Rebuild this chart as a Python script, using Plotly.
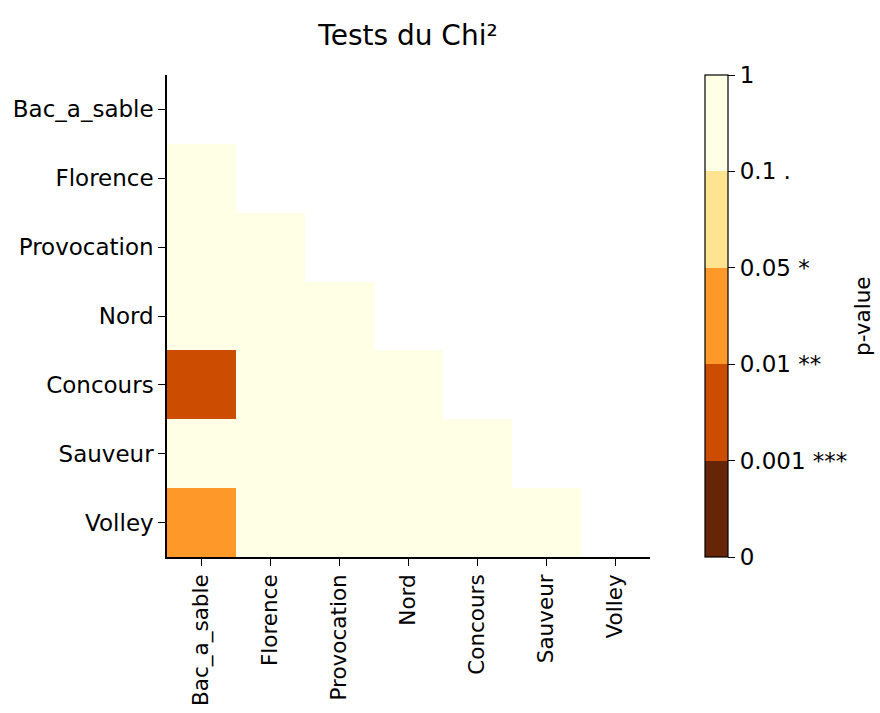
import numpy as np
import plotly.graph_objects as go

labels = ["Bac_a_sable", "Florence", "Provocation", "Nord", "Concours", "Sauveur", "Volley"]

# Lower-triangle chi-square p-values (row i vs column j, j < i); None = not shown
pvalues = [
    [None, None, None, None, None, None, None],
    [0.62, None, None, None, None, None, None],
    [0.45, 0.81, None, None, None, None, None],
    [0.33, 0.57, 0.74, None, None, None, None],
    [0.004, 0.29, 0.52, 0.68, None, None, None],
    [0.21, 0.66, 0.39, 0.85, 0.47, None, None],
    [0.03, 0.44, 0.71, 0.36, 0.58, 0.92, None],
]

boundaries = [0, 0.001, 0.01, 0.05, 0.1, 1]
bound_labels = ["0", "0.001 ***", "0.01 **", "0.05 *", "0.1 .", "1"]
bin_colors = ["#662506", "#cc4c02", "#fe9929", "#fee391", "#ffffe5"]

# BoundaryNorm-style mapping of p-values onto equally spaced colour bins
idx = list(range(len(boundaries)))
z = [[None if v is None else float(np.interp(v, boundaries, idx)) for v in row] for row in pvalues]

n = len(bin_colors)
colorscale = []
for k, c in enumerate(bin_colors):
    colorscale.append([k / n, c])
    colorscale.append([(k + 1) / n, c])

FONT = "DejaVu Sans"
FS = 23
fig = go.Figure(
    go.Heatmap(
        z=z,
        x=labels,
        y=labels,
        zmin=0,
        zmax=len(boundaries) - 1,
        colorscale=colorscale,
        customdata=pvalues,
        hovertemplate="%{y} / %{x}<br>p = %{customdata}<extra></extra>",
        colorbar=dict(
            x=(705 - 167) / 483,
            xanchor="left",
            y=0.5,
            yanchor="middle",
            len=1,
            lenmode="fraction",
            thickness=23,
            thicknessmode="pixels",
            outlinewidth=1.2,
            outlinecolor="black",
            tickmode="array",
            tickvals=idx,
            ticktext=bound_labels,
            ticks="outside",
            ticklen=7,
            tickwidth=1.2,
            tickcolor="black",
            tickfont=dict(family=FONT, size=FS, color="black"),
            xpad=0,
            ypad=0,
        ),
    )
)

fig.update_layout(
    width=880,
    height=713,
    margin=dict(l=167, r=230, t=75, b=156, autoexpand=False),
    paper_bgcolor="white",
    plot_bgcolor="white",
    font=dict(family=FONT, color="black"),
    title=dict(
        text="Tests du Chi²",
        x=408 / 880,
        xanchor="center",
        y=1 - 35 / 713,
        yanchor="middle",
        font=dict(family=FONT, size=28, color="black"),
    ),
    xaxis=dict(
        showgrid=False,
        zeroline=False,
        showline=True,
        linecolor="black",
        linewidth=1.5,
        ticks="outside",
        ticklen=7,
        tickwidth=1.2,
        tickcolor="black",
        tickangle=-90,
        tickfont=dict(family=FONT, size=21.5, color="black"),
        mirror=False,
        automargin=False,
    ),
    yaxis=dict(
        showgrid=False,
        zeroline=False,
        showline=True,
        linecolor="black",
        linewidth=1.5,
        ticks="outside",
        ticklen=7,
        tickwidth=1.2,
        tickcolor="black",
        autorange="reversed",
        tickfont=dict(family=FONT, size=FS, color="black"),
        mirror=False,
        automargin=False,
    ),
    annotations=[
        dict(
            text="p-value",
            xref="paper",
            yref="paper",
            x=(862 - 167) / 483,
            y=0.5,
            xanchor="center",
            yanchor="middle",
            textangle=-90,
            showarrow=False,
            font=dict(family=FONT, size=21.5, color="black"),
        )
    ],
)

fig.write_html("out.html")
